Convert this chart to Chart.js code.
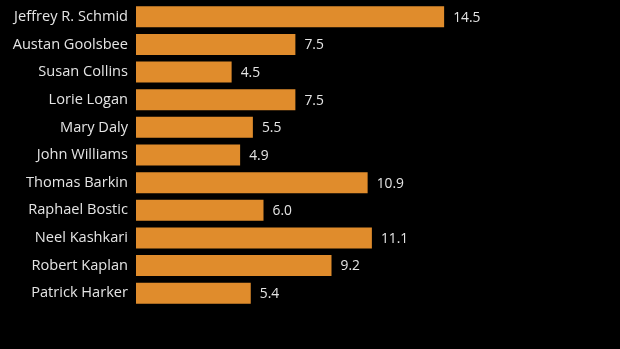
<!DOCTYPE html>
<html><head><meta charset="utf-8">
<script src="https://cdn.jsdelivr.net/npm/chart.js@4"></script>
<style>html,body{margin:0;padding:0;background:#000;}#wrap{width:620px;height:349px;}</style>
</head><body><div id="wrap"><canvas id="c" width="620" height="349"></canvas></div>
<script>
const names = ["Jeffrey R. Schmid","Austan Goolsbee","Susan Collins","Lorie Logan","Mary Daly","John Williams","Thomas Barkin","Raphael Bostic","Neel Kashkari","Robert Kaplan","Patrick Harker"];
const values = [14.5,7.5,4.5,7.5,5.5,4.9,10.9,6.0,11.1,9.2,5.4];
const FONT = "'Open Sans', sans-serif";
const valueLabels = {
  id:'valueLabels',
  afterDatasetsDraw(chart){
    const ctx = chart.ctx;
    const meta = chart.getDatasetMeta(0);
    ctx.save();
    ctx.fillStyle = '#e4e4e4';
    ctx.font = "13.8px " + FONT;
    ctx.textBaseline = 'middle';
    ctx.textAlign = 'left';
    meta.data.forEach((bar,i)=>{
      ctx.fillText(values[i].toFixed(1), bar.x + 9, bar.y + 1);
    });
    ctx.restore();
  }
};
new Chart(document.getElementById('c'),{
  type:'bar',
  data:{labels:names,datasets:[{data:values,backgroundColor:'#e08c2c',borderWidth:0,barPercentage:0.76,categoryPercentage:1}]},
  options:{
    indexAxis:'y',responsive:false,animation:false,
    layout:{padding:{top:3,bottom:42,left:0,right:59}},
    plugins:{legend:{display:false},tooltip:{enabled:false}},
    scales:{
      x:{min:0,max:20,display:false},
      y:{grid:{display:false,drawTicks:false},border:{display:false},
         afterFit(s){ s.width = 136; s.paddingTop = 0; s.paddingBottom = 0; },
         ticks:{color:'#e4e4e4',padding:8,font:{family:FONT,size:14.6}}}
    }
  },
  plugins:[valueLabels]
});
</script></body></html>
